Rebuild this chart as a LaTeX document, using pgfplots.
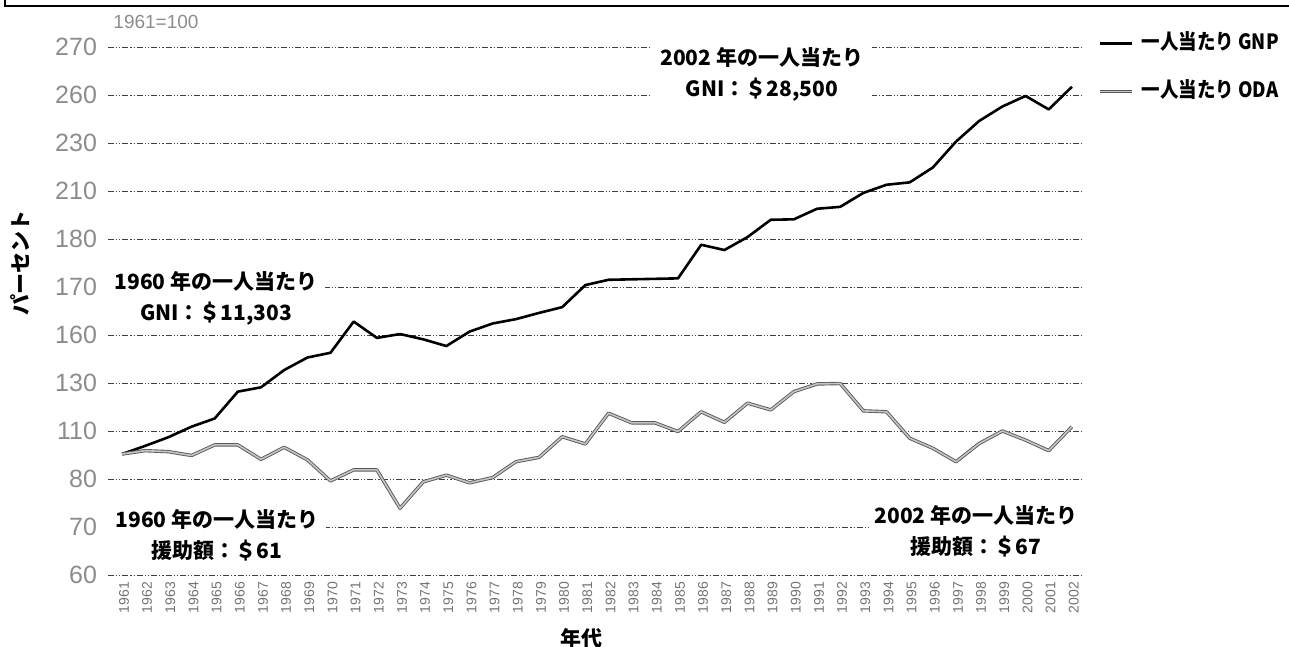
\documentclass[border=0pt]{standalone}
\usepackage{fontspec}
\setmainfont{Liberation Sans}
\newfontfamily\jp{Noto Sans CJK JP}
\newfontfamily\jpn{Noto Sans CJK JP}[FakeStretch=0.88]
\usepackage{pgfplots}
\pgfplotsset{compat=1.18}
\pgfplotstableread{
year gnp oda
1961 2.52 2.52
1962 2.69 2.59
1963 2.87 2.57
1964 3.09 2.49
1965 3.26 2.71
1966 3.82 2.71
1967 3.91 2.41
1968 4.27 2.66
1969 4.53 2.40
1970 4.63 1.96
1971 5.28 2.19
1972 4.94 2.19
1973 5.02 1.39
1974 4.91 1.94
1975 4.77 2.08
1976 5.07 1.92
1977 5.24 2.03
1978 5.33 2.36
1979 5.46 2.45
1980 5.58 2.88
1981 6.04 2.73
1982 6.15 3.37
1983 6.16 3.17
1984 6.17 3.17
1985 6.18 2.99
1986 6.88 3.40
1987 6.77 3.18
1988 7.04 3.58
1989 7.40 3.44
1990 7.41 3.82
1991 7.63 3.98
1992 7.67 3.99
1993 7.96 3.42
1994 8.13 3.40
1995 8.18 2.85
1996 8.49 2.64
1997 9.03 2.36
1998 9.46 2.74
1999 9.76 3.00
2000 9.98 2.81
2001 9.70 2.59
2002 10.17 3.09
}\datatable
\tikzset{
  jpf/.style={font=\jp\bfseries\fontsize{10.5}{15.5}\selectfont},
  jpfn/.style={font=\jpn\bfseries\fontsize{10.5}{15.5}\selectfont},
  whitebox/.style={fill=white, inner sep=0pt, align=center, jpf},
  odastyle/.style={draw=black!65, double=gray!45, double distance=0.8pt, line width=0.45pt, line join=round},
}
\begin{document}
\begin{tikzpicture}
\useasboundingbox (0,0) rectangle (644.5pt,323.5pt);
\draw[line width=1pt] (2.5pt,323.5pt) -- (2.5pt,320.5pt) -- (644.5pt,320.5pt);
\begin{axis}[
  at={(54pt,36pt)}, anchor=south west,
  scale only axis, width=487.5pt, height=264pt,
  xmin=1960.396, xmax=2002.48, ymin=0, ymax=11,
  clip=false,
  axis line style={draw=none},
  major tick length=0pt,
  xtick={1961,...,2002},
  ytick={0,...,11},
  yticklabels={60,70,80,110,130,160,170,180,210,230,260,270},
  ymajorgrids,
  major grid style={black!75, line width=0.45pt, dash pattern=on 3pt off 1pt on 0.6pt off 1pt on 0.6pt off 1pt},
  xticklabel style={rotate=90, anchor=east, font=\fontsize{7}{7}\selectfont, text=black!55, yshift=-1pt,
    /pgf/number format/1000 sep={}, /pgf/number format/assume math mode=true},
  yticklabel style={font=\fontsize{12.5}{12}\selectfont, text=black!45, xshift=-2pt},
  legend image code/.code={\draw[#1] (0pt,0pt) -- (16pt,0pt);},
  legend style={draw=none, fill=none, at={(axis description cs:1,1)}, anchor=north west,
    xshift=7.5pt, yshift=7pt, inner sep=0pt, row sep=14pt,
    nodes={text height=8pt, text depth=2pt, inner ysep=0pt, inner xsep=4pt, jpfn}},
  legend cell align=left,
]
\addplot[black, line width=1.3pt, line join=round] table[x=year, y=gnp] {\datatable};
\addlegendentry{一人当たり GNP}
\addplot[odastyle] table[x=year, y=oda] {\datatable};
\addlegendentry{一人当たり ODA}

\node[whitebox, minimum width=110.5pt, minimum height=33pt] at (axis cs:1988.62,10.43) {2002 年の一人当たり\\GNI：＄28,500};
\node[whitebox, minimum width=108.5pt, minimum height=29pt] at (axis cs:1965.06,5.77) {1960 年の一人当たり\\GNI：＄11,303};
\node[whitebox, minimum width=109.5pt, minimum height=30pt] at (axis cs:1965.10,0.82) {1960 年の一人当たり\\援助額：＄61};
\node[whitebox, minimum width=106.5pt, minimum height=31pt] at (axis cs:1997.86,0.92) {2002 年の一人当たり\\援助額：＄67};
\end{axis}
\node[font=\fontsize{9.5}{10}\selectfont, text=black!45] at (78pt,312.5pt) {1961=100};
\node[rotate=90, jpf] at (10pt,192pt) {パーセント};
\node[jpf] at (290.5pt,4.5pt) {年代};
\end{tikzpicture}
\end{document}
